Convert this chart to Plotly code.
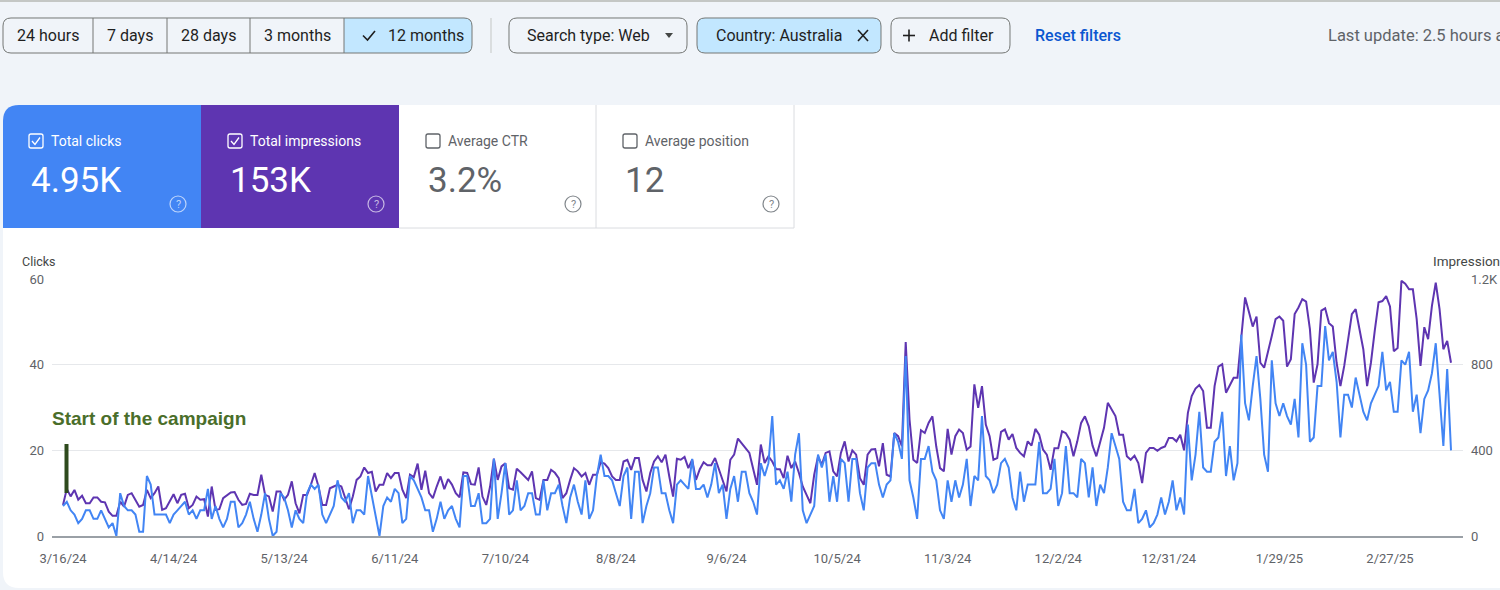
import pandas as pd
import plotly.graph_objects as go

# ---------------- data ----------------
start_date = "2024-03-16"
clicks = [
    7, 8, 6, 5, 3, 4, 6, 6, 4, 4,
    6, 4, 2, 3, 0, 10, 7, 6, 6, 5,
    1, 1, 14, 12, 5, 5, 5, 5, 3, 5,
    6, 7, 8, 5, 6, 4, 6, 6, 11, 4,
    7, 4, 2, 4, 8, 8, 2, 3, 5, 8,
    4, 1, 5, 10, 4, 0, 1, 10, 9, 6,
    2, 6, 4, 3, 10, 12, 11, 12, 5, 3,
    5, 7, 13, 9, 8, 10, 3, 6, 6, 5,
    14, 9, 5, 0, 7, 9, 8, 11, 10, 3,
    4, 14, 13, 11, 9, 6, 6, 1, 4, 8,
    4, 6, 7, 4, 2, 14, 14, 7, 7, 10,
    3, 3, 4, 18, 4, 10, 17, 5, 6, 13,
    6, 7, 10, 10, 5, 5, 13, 6, 10, 10,
    12, 7, 3, 9, 12, 8, 5, 13, 4, 6,
    14, 19, 14, 14, 13, 10, 7, 14, 16, 4,
    15, 15, 3, 7, 10, 16, 16, 10, 10, 6,
    3, 12, 13, 12, 11, 18, 11, 11, 12, 9,
    12, 17, 10, 12, 4, 11, 14, 8, 15, 15,
    10, 8, 5, 17, 14, 17, 28, 12, 13, 11,
    15, 8, 19, 24, 6, 3, 5, 7, 19, 16,
    19, 8, 14, 8, 18, 17, 8, 18, 18, 10,
    6, 16, 17, 17, 12, 9, 12, 13, 24, 22,
    18, 42, 13, 9, 4, 18, 18, 21, 15, 13,
    6, 4, 13, 8, 13, 9, 12, 18, 7, 14,
    13, 28, 14, 13, 10, 12, 17, 18, 16, 9,
    6, 15, 8, 12, 12, 12, 22, 10, 10, 11,
    18, 7, 10, 21, 10, 10, 9, 18, 17, 9,
    16, 7, 12, 10, 16, 24, 21, 18, 8, 6,
    6, 11, 3, 4, 6, 2, 3, 5, 9, 5,
    8, 13, 6, 9, 5, 26, 13, 19, 29, 16,
    15, 15, 22, 23, 29, 14, 21, 13, 17, 47,
    31, 27, 35, 42, 32, 19, 15, 41, 31, 28,
    31, 28, 26, 32, 23, 45, 40, 22, 23, 35,
    35, 49, 41, 43, 36, 23, 33, 33, 30, 37,
    33, 29, 27, 31, 33, 35, 43, 34, 36, 29,
    29, 41, 40, 43, 29, 33, 24, 32, 34, 38,
    45, 34, 21, 39, 20,
]
impressions = [
    145, 220, 185, 215, 170, 188, 153, 153, 180, 180,
    160, 157, 114, 94, 94, 160, 137, 192, 200, 169,
    137, 145, 215, 177, 200, 231, 122, 130, 160, 195,
    153, 192, 197, 130, 145, 184, 169, 172, 91, 231,
    122, 125, 177, 192, 203, 205, 169, 145, 150, 197,
    192, 192, 286, 192, 185, 114, 208, 208, 169, 192,
    255, 153, 106, 192, 192, 239, 294, 231, 145, 145,
    223, 231, 239, 231, 177, 125, 184, 262, 278, 320,
    294, 300, 208, 239, 239, 294, 270, 294, 294, 216,
    177, 286, 275, 338, 216, 305, 200, 177, 231, 278,
    219, 266, 240, 200, 181, 297, 295, 242, 240, 320,
    184, 145, 231, 361, 262, 325, 340, 223, 216, 314,
    298, 278, 262, 302, 177, 169, 262, 262, 309, 295,
    270, 177, 200, 262, 317, 302, 278, 294, 239, 286,
    286, 344, 338, 317, 278, 262, 262, 348, 356, 309,
    364, 364, 262, 208, 294, 348, 372, 344, 380, 278,
    184, 361, 356, 369, 317, 356, 262, 312, 344, 330,
    330, 364, 309, 255, 208, 356, 380, 455, 430, 410,
    388, 309, 239, 427, 341, 372, 348, 312, 312, 270,
    375, 317, 348, 294, 231, 192, 153, 286, 372, 333,
    388, 395, 302, 278, 388, 442, 348, 400, 380, 270,
    239, 380, 404, 406, 325, 434, 286, 278, 481, 466,
    419, 906, 544, 356, 341, 494, 481, 528, 559, 419,
    317, 302, 500, 380, 466, 497, 481, 403, 418, 708,
    598, 700, 520, 466, 356, 364, 486, 497, 450, 476,
    411, 388, 372, 442, 422, 500, 473, 404, 380, 309,
    410, 410, 489, 480, 450, 372, 442, 528, 559, 512,
    422, 372, 434, 505, 622, 591, 560, 473, 473, 372,
    356, 375, 341, 247, 388, 411, 411, 398, 411, 418,
    458, 458, 442, 473, 400, 575, 653, 688, 705, 677,
    505, 505, 700, 791, 802, 669, 708, 739, 739, 942,
    1114, 1047, 978, 1025, 809, 786, 856, 934, 1013, 1025,
    1005, 791, 825, 1036, 1067, 1106, 1094, 966, 716, 802,
    1052, 1063, 994, 978, 809, 700, 794, 919, 1036, 1059,
    969, 872, 700, 809, 958, 1091, 1097, 1120, 1072, 863,
    878, 1191, 1178, 1152, 1152, 1013, 794, 975, 919, 1075,
    1183, 1059, 872, 911, 809,
]
dates = pd.date_range(start_date, periods=len(clicks), freq="D")

x_tick_dates = ["2024-03-16", "2024-04-14", "2024-05-13", "2024-06-11", "2024-07-10",
                "2024-08-08", "2024-09-06", "2024-10-05", "2024-11-03", "2024-12-02",
                "2024-12-31", "2025-01-29", "2025-02-27"]
x_tick_labels = ["3/16/24", "4/14/24", "5/13/24", "6/11/24", "7/10/24", "8/8/24", "9/6/24",
                 "10/5/24", "11/3/24", "12/2/24", "12/31/24", "1/29/25", "2/27/25"]
clicks_ticks = [0, 20, 40, 60]
impr_ticks = [0, 400, 800, 1200]
impr_tick_labels = ["0", "400", "800", "1.2K"]

time_ranges = ["24 hours", "7 days", "28 days", "3 months", "12 months"]
card_titles = ["Total clicks", "Total impressions", "Average CTR", "Average position"]
card_values = ["4.95K", "153K", "3.2%", "12"]

# ---------------- layout helpers ----------------
W, H = 1500, 590
FONT = "Roboto, 'Noto Sans', sans-serif"
BLUE = "#4285f4"
PURPLE = "#5e35b1"
BG = "#f0f4f9"


def P(x, y):
    return f"{x / W:.6f},{1 - y / H:.6f}"


def rrect(x0, y0, x1, y1, r=(0, 0, 0, 0)):
    tl, tr, br, bl = r
    return (f"M {P(x0 + tl, y0)} L {P(x1 - tr, y0)} Q {P(x1, y0)} {P(x1, y0 + tr)} "
            f"L {P(x1, y1 - br)} Q {P(x1, y1)} {P(x1 - br, y1)} L {P(x0 + bl, y1)} "
            f"Q {P(x0, y1)} {P(x0, y1 - bl)} L {P(x0, y0 + tl)} Q {P(x0, y0)} {P(x0 + tl, y0)} Z")


shapes = []
annotations = []


def path(d, fill=None, line=None, lw=1):
    shapes.append(dict(type="path", xref="paper", yref="paper", path=d, layer="below",
                       fillcolor=fill if fill else "rgba(0,0,0,0)",
                       line=dict(color=line if line else "rgba(0,0,0,0)", width=lw)))


def seg(x0, y0, x1, y1, color, lw=1):
    shapes.append(dict(type="line", xref="paper", yref="paper", layer="below",
                       x0=x0 / W, y0=1 - y0 / H, x1=x1 / W, y1=1 - y1 / H,
                       line=dict(color=color, width=lw)))


def circ(cx, cy, r, color, lw=1.2):
    shapes.append(dict(type="circle", xref="paper", yref="paper", layer="below",
                       x0=(cx - r) / W, x1=(cx + r) / W, y0=1 - (cy + r) / H, y1=1 - (cy - r) / H,
                       line=dict(color=color, width=lw), fillcolor="rgba(0,0,0,0)"))


def text(x, y, s, size=15, color="#1f1f1f", anchor="left", family=FONT, weight=None):
    f = dict(size=size, color=color, family=family)
    if weight:
        f["weight"] = weight
    annotations.append(dict(x=x / W, y=1 - y / H, xref="paper", yref="paper", text=s,
                            showarrow=False, xanchor=anchor, yanchor="middle", font=f,
                            borderpad=0))


# top border line
seg(0, 1, W, 1, "#c4c7c5", 2)

# segmented time range control
path(rrect(344, 18, 472, 53, (0, 8, 8, 0)), fill="#c2e7ff")
path(rrect(3, 18, 472, 53, (8, 8, 8, 8)), line="#747775", lw=1)
for xd in [93, 167, 250, 344]:
    seg(xd, 18, xd, 53, "#747775", 1)
centers = [48, 130, 208, 297]
for c, lab in zip(centers, time_ranges[:4]):
    text(c, 35.5, lab, 16, "#1f1f1f", "center")
text(387, 35.5, time_ranges[4], 16, "#1f1f1f", "left")
path(f"M {P(363, 35.5)} L {P(367.5, 40)} L {P(375, 31)}", line="#1f1f1f", lw=1.6)

# separator
seg(491, 18, 491, 53, "#c4c7c5", 1)

# search type
path(rrect(509, 18, 687, 53, (8, 8, 8, 8)), line="#747775", lw=1)
text(526, 35.5, "Search type: Web", 16, "#1f1f1f", "left")
path(f"M {P(665, 33)} L {P(673, 33)} L {P(669, 38)} Z", fill="#444746")

# country chip
path(rrect(697, 18, 881, 53, (8, 8, 8, 8)), fill="#c2e7ff", line="#747775", lw=1)
text(715, 35.5, "Country: Australia", 16, "#1f1f1f", "left")
seg(858, 30, 868, 41, "#1f1f1f", 1.6)
seg(858, 41, 868, 30, "#1f1f1f", 1.6)

# add filter
path(rrect(891, 18, 1010, 53, (8, 8, 8, 8)), line="#747775", lw=1)
seg(903, 35.5, 915, 35.5, "#1f1f1f", 1.6)
seg(909, 29.5, 909, 41.5, "#1f1f1f", 1.6)
text(928, 35.5, "Add filter", 16, "#1f1f1f", "left")

text(1034, 35.5, "Reset filters", 16, "#0b57d0", "left", weight=500)
text(1327, 35.5, "Last update: 2.5 hours ago", 16.5, "#5f6368", "left")

# white panel
path(rrect(3, 105, 1500, 588, (16, 0, 0, 16)), fill="#ffffff")

# cards
card_x = [3, 201, 399, 596]
card_w = [198, 198, 197, 198]
path(rrect(3, 105, 201, 228, (16, 0, 0, 0)), fill=BLUE)
path(rrect(201, 105, 399, 228), fill=PURPLE)
seg(596, 105, 596, 228, "#dadce0", 1)
seg(794, 105, 794, 228, "#dadce0", 1)
seg(399, 228, 794, 228, "#dadce0", 1)

for i, (cx, t, v) in enumerate(zip(card_x, card_titles, card_values)):
    on = i < 2
    fg = "#ffffff" if on else "#5f6368"
    bx = cx + 26 if i == 0 else cx + 27
    path(rrect(bx, 134, bx + 14, 148, (2, 2, 2, 2)), line=fg if on else "#5f6368", lw=1.3)
    if on:
        path(f"M {P(bx + 3, 141)} L {P(bx + 6, 144.5)} L {P(bx + 11, 137.5)}", line="#ffffff", lw=1.3)
    text(bx + 21, 141, t, 14, fg, "left")
    text(bx + 1, 180, v, 35, fg, "left")
    hx = cx + card_w[i] - 23
    hc = "rgba(255,255,255,0.65)" if on else "#80868b"
    circ(hx, 204, 8, hc, 1.2)
    text(hx, 204.5, "?", 11, hc, "center")

# axis titles
text(21, 261, "Clicks", 12.5, "#444746", "left")
text(1432, 261, "Impressions", 13.5, "#444746", "left")

# campaign annotation
shapes.append(dict(type="rect", xref="paper", yref="paper", layer="above",
                   x0=64.5 / W, x1=68.5 / W, y0=1 - 493 / H, y1=1 - 444 / H,
                   fillcolor="#2e4a1d", line=dict(width=0)))
text(51, 418, "Start of the campaign", 19, "#4a6e2a", "left",
     family="'Liberation Sans', Arial, sans-serif", weight="bold")

# ---------------- chart ----------------
px_per_day = (1451 - 63) / 364
x_start = pd.Timestamp(start_date) - pd.Timedelta(days=(63 - 52) / px_per_day)
x_end = pd.Timestamp(start_date) + pd.Timedelta(days=364 + (1463 - 1451) / px_per_day)

fig = go.Figure()
fig.add_trace(go.Scatter(x=dates, y=impressions, mode="lines", yaxis="y",
                         line=dict(color=PURPLE, width=2), name="Impressions", hoverinfo="skip"))
fig.add_trace(go.Scatter(x=dates, y=clicks, mode="lines", yaxis="y2",
                         line=dict(color=BLUE, width=2), name="Clicks", hoverinfo="skip"))

ydom = [1 - 536 / H, 1 - 279 / H]
fig.update_layout(
    width=W, height=H,
    margin=dict(l=0, r=0, t=0, b=0),
    paper_bgcolor=BG, plot_bgcolor="rgba(0,0,0,0)",
    showlegend=False,
    font=dict(family=FONT),
    xaxis=dict(domain=[52 / W, 1463 / W], type="date", range=[x_start, x_end],
               tickvals=x_tick_dates, ticktext=x_tick_labels, showgrid=False,
               showline=True, linecolor="#9aa0a6", linewidth=1.5, zeroline=False,
               ticks="", tickfont=dict(size=13, color="#5f6368", family=FONT),
               ticklabelstandoff=10, automargin=False, fixedrange=True),
    yaxis=dict(domain=ydom, range=[0, 1200], side="right", tickvals=impr_ticks,
               ticktext=impr_tick_labels, showgrid=True, gridcolor="#e6e8eb", gridwidth=1,
               zeroline=False, showline=False, ticks="",
               tickfont=dict(size=13, color="#5f6368", family=FONT),
               ticklabelstandoff=7, automargin=False, fixedrange=True),
    yaxis2=dict(domain=ydom, range=[0, 60], side="left", overlaying="y", anchor="x",
                tickvals=clicks_ticks, showgrid=False, zeroline=False, showline=False,
                ticks="", tickfont=dict(size=13, color="#5f6368", family=FONT),
                ticklabelstandoff=7, automargin=False, fixedrange=True),
    shapes=shapes,
    annotations=annotations,
)

fig.write_html("out.html")
